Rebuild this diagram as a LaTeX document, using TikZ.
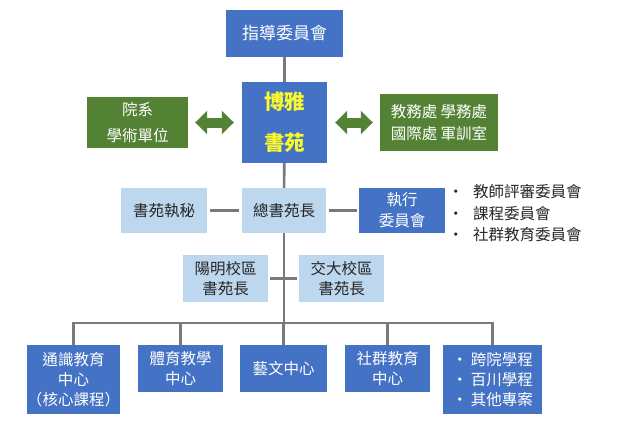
\documentclass[tikz,border=0pt]{standalone}
\usepackage{fontspec}
\setmainfont{Noto Sans CJK TC}
\usetikzlibrary{positioning,arrows.meta}
\definecolor{offblue}{HTML}{4472C4}
\definecolor{offgreen}{HTML}{548235}
\definecolor{paleblue}{HTML}{BDD7EE}
\definecolor{lnkgray}{HTML}{7A7A7A}
\definecolor{txtdark}{HTML}{262626}
\definecolor{boyayel}{HTML}{FAFA2A}
\newcommand{\fs}[2]{\fontsize{#1}{#2}\selectfont}
\newcommand{\bul}{\makebox[25pt][l]{•}}
\newcommand{\sbul}{\makebox[19pt][l]{•}}
\tikzset{
  box/.style={inner sep=0pt,align=center,font=\fs{15.5}{21}},
  dkbox/.style={box,fill=offblue,text=white},
  grbox/.style={box,fill=offgreen,text=white},
  ltbox/.style={box,fill=paleblue,text=txtdark},
  small/.style={minimum width=85pt,minimum height=47pt},
  tall/.style={minimum height=69pt},
  link/.style={draw=lnkgray,line width=2.6pt},
  dblarr/.style={draw=offgreen,line width=10pt,
    {Triangle[length=12pt,width=23pt]}-{Triangle[length=12pt,width=23pt]}}, % fat two-way arrow
}
\begin{document}
\begin{tikzpicture}[x=1pt,y=-1pt]
  \useasboundingbox[fill=white] (0,0) rectangle (639,442);
  % top part
  \node[dkbox,minimum width=117pt,minimum height=47pt,font=\fs{17}{22}] (guide) at (284.5,33.5) {指導委員會};
  \node[dkbox,minimum width=85pt,minimum height=81pt,text=boyayel,font=\fs{20.5}{41}\bfseries] (boya) at (284.5,122.5) {博雅\\書苑};
  \node[grbox,minimum width=101pt,minimum height=51pt,font=\fs{15.5}{26}] (dept) at (137.5,122.5) {院系\\學術單位};
  \node[grbox,minimum width=118pt,minimum height=57pt,font=\fs{15.5}{22}] (offices) at (439,122.5) {教務處 學務處\\國際處 軍訓室};
  % second row
  \node[ltbox,minimum width=86pt,minimum height=45pt] (sec) at (164,210.5) {書苑執秘};
  \node[ltbox,minimum width=84pt,minimum height=45pt] (chief) at (284,210.5) {總書苑長};
  \node[dkbox,minimum width=86pt,minimum height=45pt] (exec) at (402,210.5) {執行\\委員會};
  \node[box,anchor=west,align=left,text=txtdark,font=\fs{15.5}{21.5}] (cmtlist) at (448,213.5)
    {\bul 教師評審委員會\\\bul 課程委員會\\\bul 社群教育委員會};
  % campus heads
  \node[ltbox,small,font=\fs{15.5}{20}] (yangming) at (225.5,278.5) {陽明校區\\書苑長};
  \node[ltbox,small,font=\fs{15.5}{20}] (jiaoda) at (341.5,278.5) {交大校區\\書苑長};
  % bottom row
  \node[dkbox,tall,minimum width=79pt,font=\fs{15.5}{20}] (gened) at (73.5,379.5) {通識教育\\中心\\（核心課程）};
  \node[dkbox,small,font=\fs{15.5}{20}] (pe) at (180.5,368.5) {體育教學\\中心};
  \node[dkbox,small,minimum width=87pt] (arts) at (283.5,368.5) {藝文中心};
  \node[dkbox,small,font=\fs{15.5}{20}] (comm) at (387.5,368.5) {社群教育\\中心};
  \node[dkbox,tall,minimum width=99pt,align=left,font=\fs{15.5}{20}] (prog) at (492.5,379.5)
    {\sbul 跨院學程\\\sbul 百川學程\\\sbul 其他專案};
  % connectors
  \draw[link] (guide) -- (boya);
  \draw[dblarr,shorten <=7pt,shorten >=8pt] (dept) -- (boya);
  \draw[dblarr,shorten <=8pt,shorten >=7pt] (boya) -- (offices);
  \draw[link] (boya) -- (chief);
  \draw[link,shorten <=3pt,shorten >=3pt] (sec) -- (chief);
  \draw[link,shorten <=3pt,shorten >=2pt] (chief) -- (exec);
  \coordinate (bus) at (284,323);
  \draw[link] (chief.south) -- (bus);
  \draw[link,shorten <=2pt,shorten >=2pt] (yangming) -- (jiaoda);
  \foreach \b in {gened,pe,arts,comm,prog}
    \draw[link] (bus) -| (\b.north);
\end{tikzpicture}
\end{document}
